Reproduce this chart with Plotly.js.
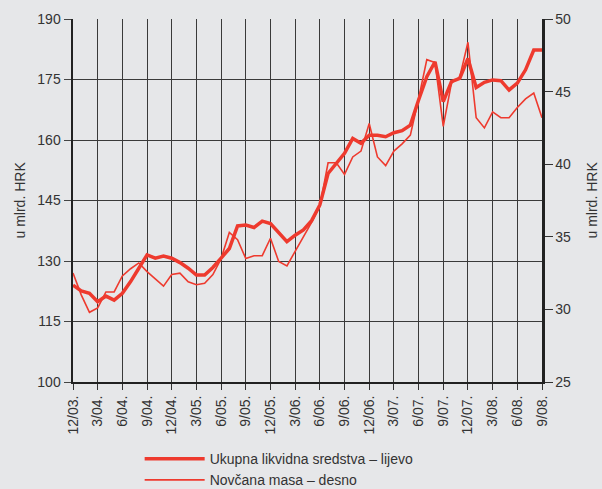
<!DOCTYPE html>
<html>
<head>
<meta charset="utf-8">
<script src="https://cdn.plot.ly/plotly-3.0.1.min.js"></script>
<style>html,body{margin:0;padding:0;background:#e6e7e9;}#chart{width:602px;height:489px;}</style>
</head>
<body>
<div id="chart"></div>
<script>
// Months 12/03 .. 9/08
var months = ["12/03.","1/04.","2/04.","3/04.","4/04.","5/04.","6/04.","7/04.","8/04.","9/04.","10/04.","11/04.",
  "12/04.","1/05.","2/05.","3/05.","4/05.","5/05.","6/05.","7/05.","8/05.","9/05.","10/05.","11/05.",
  "12/05.","1/06.","2/06.","3/06.","4/06.","5/06.","6/06.","7/06.","8/06.","9/06.","10/06.","11/06.",
  "12/06.","1/07.","2/07.","3/07.","4/07.","5/07.","6/07.","7/07.","8/07.","9/07.","10/07.","11/07.",
  "12/07.","1/08.","2/08.","3/08.","4/08.","5/08.","6/08.","7/08.","8/08.","9/08."];
var tickLabels = ["12/03.","3/04.","6/04.","9/04.","12/04.","3/05.","6/05.","9/05.","12/05.","3/06.",
  "6/06.","9/06.","12/06.","3/07.","6/07.","9/07.","12/07.","3/08.","6/08.","9/08."];

// Ukupna likvidna sredstva (left axis, bn HRK)
var liquidAssets = [124.0,122.6,122.0,119.9,121.3,120.3,122.0,124.9,128.2,131.5,130.7,131.2,
  130.7,129.6,128.2,126.5,126.5,128.4,130.7,133.1,138.7,138.9,138.3,139.9,
  139.3,136.9,134.8,136.4,137.7,140.0,143.9,151.7,154.2,156.7,160.4,159.2,
  161.2,161.2,160.8,161.8,162.3,163.7,169.9,175.7,179.4,169.5,174.5,175.3,
  180.2,173.0,174.3,174.9,174.7,172.4,174.1,177.4,182.3,182.3];

// Novčana masa (right axis, bn HRK)
var moneySupply = [32.5,31.0,29.8,30.1,31.2,31.2,32.3,32.8,33.2,32.6,32.1,31.6,
  32.4,32.5,31.9,31.7,31.8,32.4,33.5,35.3,34.8,33.5,33.7,33.7,
  34.9,33.3,33.0,34.0,34.9,36.0,37.1,40.1,40.1,39.3,40.5,40.9,
  42.8,40.5,39.9,40.9,41.4,42.0,44.5,47.2,47.0,42.6,45.6,46.0,
  48.4,43.2,42.5,43.6,43.2,43.2,43.9,44.5,44.9,43.2];

var leftTicks = [100,115,130,145,160,175,190];
var rightTicks = [25,30,35,40,45,50];
var axisTitle = 'u mlrd. HRK';

var red = '#ee3a2e';
var fontFam = 'Liberation Sans, Arial, sans-serif';

var traces = [
  {x: months, y: liquidAssets, type: 'scatter', mode: 'lines', name: 'Ukupna likvidna sredstva – lijevo',
   line: {color: red, width: 3.5}, yaxis: 'y'},
  {x: months, y: moneySupply, type: 'scatter', mode: 'lines', name: 'Novčana masa – desno',
   line: {color: red, width: 1.6}, yaxis: 'y2'}
];

var layout = {
  width: 602, height: 489,
  paper_bgcolor: '#e6e7e9', plot_bgcolor: '#e6e7e9',
  margin: {l: 73, r: 60, t: 19, b: 107, autoexpand: false},
  font: {family: fontFam, size: 14, color: '#333'},
  showlegend: true,
  legend: {xref: 'container', yref: 'container', x: 0.232, y: 0.094, xanchor: 'left', yanchor: 'top',
    orientation: 'v', itemwidth: 60,
    bgcolor: 'rgba(0,0,0,0)', font: {size: 14, color: '#333'}, tracegroupgap: 0},
  xaxis: {type: 'category', categoryorder: 'array', categoryarray: months, automargin: false,
    range: [0, 57], tickvals: tickLabels, ticktext: tickLabels, tickangle: -90,
    showgrid: true, gridcolor: '#3a3a3a', gridwidth: 1,
    showline: true, linecolor: '#222', linewidth: 2,
    ticks: 'outside', ticklen: 6, tickcolor: '#333',
    tickfont: {size: 14, color: '#333'}, zeroline: false, fixedrange: true},
  yaxis: {range: [100, 190], tickvals: leftTicks, showgrid: true, gridcolor: '#3a3a3a', gridwidth: 1,
    automargin: false,
    showline: true, linecolor: '#222', linewidth: 2.5, ticks: 'outside', ticklen: 7, tickcolor: '#444',
    zeroline: false, tickfont: {size: 14, color: '#333'}},
  yaxis2: {range: [25, 50], tickvals: rightTicks, overlaying: 'y', side: 'right', showgrid: false,
    automargin: false,
    showline: true, linecolor: '#222', linewidth: 2.5, ticks: 'outside', ticklen: 8, tickcolor: '#333',
    zeroline: false, tickfont: {size: 14, color: '#333'}},
  yaxis3: {range: [25, 50], tickvals: rightTicks, overlaying: 'y', side: 'right', anchor: 'x',
    showgrid: false, automargin: false, showticklabels: false, showline: false,
    ticks: 'inside', ticklen: 8, tickcolor: '#333', zeroline: false},
  annotations: [
    {xref: 'paper', yref: 'paper', x: (19 - 73) / 469, y: 0.5, text: axisTitle, textangle: -90,
     showarrow: false, xanchor: 'center', yanchor: 'middle', font: {size: 14, color: '#333'}},
    {xref: 'paper', yref: 'paper', x: (591 - 73) / 469, y: 0.5, text: axisTitle, textangle: -90,
     showarrow: false, xanchor: 'center', yanchor: 'middle', font: {size: 14, color: '#333'}}
  ]
};

Plotly.newPlot('chart', traces, layout, {displayModeBar: false, staticPlot: true});
</script>
</body>
</html>
